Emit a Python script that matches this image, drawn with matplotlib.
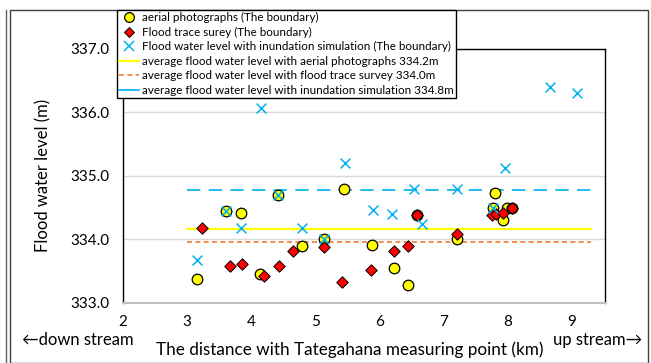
import matplotlib

matplotlib.use("Agg")
import matplotlib.pyplot as plt
from matplotlib.lines import Line2D
from matplotlib.patches import Rectangle

plt.rcParams["font.family"] = ["Lato", "DejaVu Sans"]

# aerial photographs (the boundary)
aerial_x = [3.16, 3.60, 3.84, 4.14, 4.41, 4.79, 5.13, 5.45, 5.89, 6.22, 6.45, 6.59, 7.20,
            7.77, 7.80, 7.92, 7.98, 8.06]
aerial_y = [333.38, 334.45, 334.42, 333.45, 334.70, 333.90, 334.00, 334.80, 333.91, 333.54,
            333.28, 334.39, 334.00, 334.50, 334.73, 334.30, 334.50, 334.50]

# flood trace survey (the boundary)
trace_x = [3.23, 3.67, 3.86, 4.20, 4.43, 4.65, 5.13, 5.42, 5.87, 6.23, 6.45, 6.59, 7.21,
           7.75, 7.82, 7.92, 8.07]
trace_y = [334.18, 333.58, 333.61, 333.42, 333.58, 333.82, 333.88, 333.33, 333.52, 333.82,
           333.90, 334.39, 334.08, 334.38, 334.40, 334.41, 334.50]

# inundation simulation (the boundary)
sim_x = [3.16, 3.60, 3.84, 4.15, 4.41, 4.79, 5.13, 5.46, 5.90, 6.20, 6.53, 6.66, 7.20,
         7.77, 7.95, 8.66, 9.08]
sim_y = [333.67, 334.45, 334.17, 336.07, 334.70, 334.17, 334.00, 335.20, 334.46, 334.40,
         334.79, 334.24, 334.79, 334.50, 335.12, 336.40, 336.31]

# averages: drawn level and the value printed in the legend
avg_span = [3.0, 9.3]
avg_aerial, avg_aerial_label = 334.16, "334.2"
avg_trace, avg_trace_label = 333.95, "334.0"
avg_sim, avg_sim_label = 334.78, "334.8"

x_ticks = [2, 3, 4, 5, 6, 7, 8, 9]
y_ticks = [333.0, 334.0, 335.0, 336.0, 337.0]

W, H = 651, 363
fig = plt.figure(figsize=(W / 100, H / 100), dpi=100)


def fx(px):
    return px / W


def fy(py):
    return 1 - py / H


# outer frames
fig.add_artist(Rectangle((fx(10), fy(363)), fx(648) - fx(10), fy(10) - fy(363),
                         transform=fig.transFigure, fill=False, edgecolor="#404040", lw=1))
fig.add_artist(Line2D([fx(6), fx(6)], [fy(10), fy(363)], transform=fig.transFigure,
                      color="#606060", lw=1))

ax = fig.add_axes([fx(123), fy(302.7), fx(605) - fx(123), fy(49) - fy(302.7)])

ax.plot(avg_span, [avg_aerial] * 2, color="#ffff00", lw=1.6, zorder=2)
ax.plot(avg_span, [avg_trace] * 2, color="#ed7d31", lw=1.2, ls=(0, (3, 2)), zorder=2)
ax.plot(avg_span, [avg_sim] * 2, color="#00b0f0", lw=1.2, ls=(0, (8, 5)), zorder=2)

ax.scatter(aerial_x, aerial_y, s=58, marker="o", facecolor="#ffff00", edgecolor="black",
           lw=0.9, zorder=3)
ax.scatter(trace_x, trace_y, s=34, marker="D", facecolor="#ff0000", edgecolor="black",
           lw=0.7, zorder=4)
ax.scatter(sim_x, sim_y, s=50, marker="x", color="#00b0f0", lw=1.1, zorder=5)

ax.set_xlim(2, 9.515)
ax.set_ylim(333, 337)
ax.set_xticks(x_ticks)
ax.set_yticks(y_ticks)
ax.set_yticklabels([f"{v:.1f}" for v in y_ticks])
ax.tick_params(axis="both", length=0, labelsize=11, colors="black")
ax.tick_params(axis="x", pad=9)
ax.tick_params(axis="y", pad=10)
ax.grid(axis="y", color="#d9d9d9", lw=1)
ax.set_axisbelow(True)
for side in ["left", "right", "top"]:
    ax.spines[side].set_color("black")
    ax.spines[side].set_linewidth(1)
ax.spines["bottom"].set_color("#bfbfbf")
ax.spines["bottom"].set_linewidth(1.5)

ax.set_ylabel("Flood water level (m)", fontsize=12, labelpad=13)
fig.text(fx(350), fy(350), "The distance with Tategahana measuring point (km)", fontsize=12.3,
         ha="center", va="center")
fig.text(fx(22), fy(340), "\u2190down stream", fontsize=12, ha="left", va="center")
fig.text(fx(642), fy(340), "up stream\u2192", fontsize=12, ha="right", va="center")

handles = [
    Line2D([], [], ls="none", marker="o", ms=7, mfc="#ffff00", mec="black", mew=0.9),
    Line2D([], [], ls="none", marker="D", ms=5.5, mfc="#ff0000", mec="black", mew=0.7),
    Line2D([], [], ls="none", marker="x", ms=7, color="#00b0f0", mew=1.1),
    Line2D([], [], color="#ffff00", lw=1.6),
    Line2D([], [], color="#ed7d31", lw=1.2, ls=(0, (3, 2))),
    Line2D([], [], color="#00b0f0", lw=1.2),
]
labels = [
    "aerial photographs (The boundary)",
    "Flood trace surey (The boundary)",
    "Flood water level with inundation simulation (The boundary)",
    f"average flood water level with aerial photographs {avg_aerial_label}m",
    f"average flood water level with flood trace survey {avg_trace_label}m",
    f"average flood water level with inundation simulation {avg_sim_label}m",
]
leg = fig.legend(handles, labels, loc="upper left", bbox_to_anchor=(fx(117), fy(10)),
                 fontsize=8.4, frameon=True, fancybox=False, edgecolor="black",
                 handlelength=1.7, handletextpad=0.25, labelspacing=0.3, borderpad=0.2,
                 borderaxespad=0, framealpha=1)
leg.get_frame().set_linewidth(1)

fig.savefig("out.png", dpi=100)
